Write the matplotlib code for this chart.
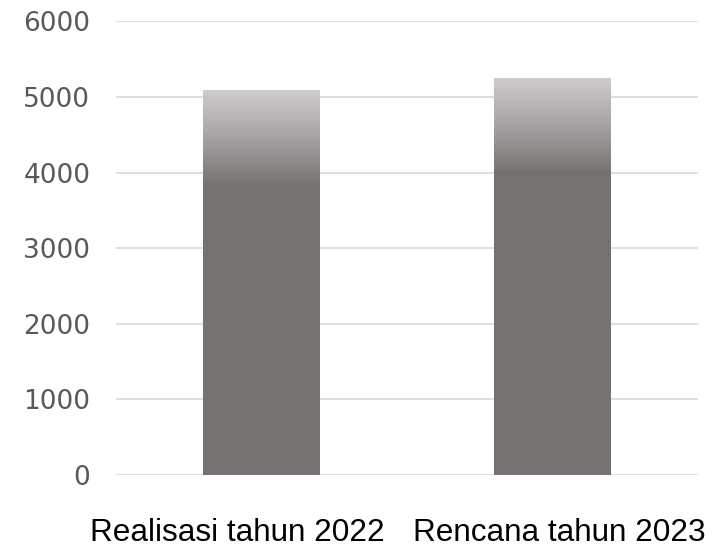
import numpy as np
import matplotlib
matplotlib.use('Agg')
import matplotlib.pyplot as plt
import matplotlib.transforms as mtransforms
from matplotlib.colors import LinearSegmentedColormap

# data
categories = ['Realisasi tahun 2022', 'Rencana tahun 2023']
values = [5090, 5250]
y_ticks = [0, 1000, 2000, 3000, 4000, 5000, 6000]

# style
BAR_COLOR = '#757170'
TOP_COLOR = '#cfcdcc'
GRID_COLOR = '#d9d9d9'
FADE_SPAN = 1210  # gradient depth from bar top, in data units

fig = plt.figure(figsize=(7.23, 5.5), dpi=100)
ax = fig.add_axes([0.1604, 0.1369, 0.805, 0.8241])

x = np.arange(len(categories))
width = 0.4
bars = ax.bar(x, values, width=width, color=BAR_COLOR, zorder=2)

# gradient overlay at the top of each bar
cmap = LinearSegmentedColormap.from_list('fade', ['#7a7675', '#a6a4a4', TOP_COLOR])
grad = np.linspace(0, 1, 256).reshape(-1, 1)
for b, v in zip(bars, values):
    x0 = b.get_x()
    ax.imshow(grad, cmap=cmap, origin='lower', aspect='auto', interpolation='bicubic',
              extent=(x0, x0 + width, v - FADE_SPAN, v), zorder=3)

ax.set_xlim(-0.5, len(categories) - 0.5)
ax.set_ylim(0, 6000)
ax.set_yticks(y_ticks)
ax.set_yticklabels([str(t) for t in y_ticks], family='DejaVu Sans', fontsize=19, color='#595959')
ax.set_xticks(x)
ax.set_xticklabels([])

# category labels: the reference lets them spill outward from the bar centres
shifts_px = [-24.5, 6.5]
for xi, name, dx in zip(x, categories, shifts_px):
    off = mtransforms.offset_copy(ax.get_xaxis_transform(), fig=fig, x=dx * 0.72, y=-31, units='points')
    ax.text(xi, 0, name, transform=off, ha='center', va='top',
            family='Liberation Sans', fontsize=22.7, color='black')

ax.tick_params(axis='y', length=0, pad=18.5)
ax.tick_params(axis='x', length=0)
ax.grid(axis='y', color=GRID_COLOR, linewidth=1.2, zorder=0)
ax.set_axisbelow(True)
for s in ax.spines.values():
    s.set_visible(False)

fig.savefig('out.png', dpi=100, facecolor='white')
